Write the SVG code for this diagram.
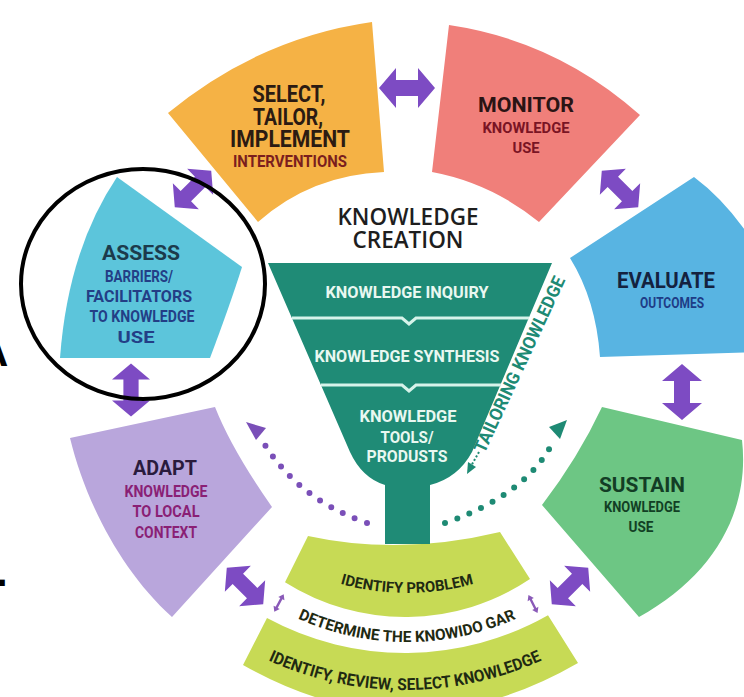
<svg xmlns="http://www.w3.org/2000/svg" width="744" height="697" viewBox="0 0 744 697">
  <defs>
    <style>
      text { font-family: Roboto, "Liberation Sans", "DejaVu Sans", sans-serif; font-weight: 700; text-anchor: middle; }
      .title { font-family: "Open Sans", Roboto, "Liberation Sans", sans-serif; font-weight: 600; font-size: 23px; fill: #1E1E1E; }
      .arrow { fill: #7D4BC3; }
      .ftxt { fill: #E9F8F1; font-size: 17px; }
      .btxt { fill: #1F2A12; }
      .sep { fill: none; stroke: #D6F3EA; stroke-width: 3; }
      .edge { font-family: "Liberation Sans", sans-serif; font-size: 42px; text-anchor: start; fill: #000; }
    </style>
    <!-- reusable double-headed block arrow -->
    <path id="dbl" d="M-28,0 L-11,-20 L-11,-8 L11,-8 L11,-20 L28,0 L11,20 L11,8 L-11,8 L-11,20 Z"/>
    <!-- small thin double arrow -->
    <path id="thin" d="M0,-10 L3.5,-5 L1.2,-5 L1.2,5 L3.5,5 L0,10 L-3.5,5 L-1.2,5 L-1.2,-5 L-3.5,-5 Z"/>
    <!-- baselines for the curved band labels -->
    <path id="arcT1" d="M307,571.7 A246,246 0 0 0 507,571.7"/>
    <path id="arcT2" d="M267,602.2 A266,266 0 0 0 547,602.2"/>
    <path id="arcT3" d="M245,648.6 A330,330 0 0 0 565,648.6"/>
  </defs>

  <rect width="744" height="697" fill="#FFFFFF"/>

  <!-- ring segments -->
  <g id="select">
    <path fill="#F5B245" d="M168,113 Q259,38 372,22 L384,172 Q311,175 258,222 Z"/>
    <text x="289" y="102" font-size="23" fill="#2B1B12" textLength="73" lengthAdjust="spacingAndGlyphs">SELECT,</text>
    <text x="288" y="125" font-size="23" fill="#2B1B12" textLength="70" lengthAdjust="spacingAndGlyphs">TAILOR,</text>
    <text x="290" y="147" font-size="23" fill="#2B1B12" textLength="120" lengthAdjust="spacingAndGlyphs">IMPLEMENT</text>
    <text x="290" y="167" font-size="16" fill="#7B1E1E" textLength="114" lengthAdjust="spacingAndGlyphs">INTERVENTIONS</text>
  </g>

  <g id="monitor">
    <path fill="#F07F7A" d="M449,25 Q557,41 640,115 L539,222 Q491,183 432,172 Z"/>
    <text x="526" y="112" font-size="21" fill="#2A1414" textLength="96" lengthAdjust="spacingAndGlyphs">MONITOR</text>
    <text x="526" y="133" font-size="15" fill="#7A1424" textLength="87" lengthAdjust="spacingAndGlyphs">KNOWLEDGE</text>
    <text x="526" y="153" font-size="15" fill="#7A1424" textLength="27" lengthAdjust="spacingAndGlyphs">USE</text>
  </g>

  <g id="evaluate">
    <path fill="#58B4E2" d="M570,258 L694,177 Q725,200 752,240 L760,260 L760,352 L600,357 Q596,300 570,258 Z"/>
    <text x="666" y="288" font-size="22" fill="#14223F" textLength="98" lengthAdjust="spacingAndGlyphs">EVALUATE</text>
    <text x="672" y="308" font-size="15" fill="#1E3C86" textLength="64" lengthAdjust="spacingAndGlyphs">OUTCOMES</text>
  </g>

  <g id="sustain">
    <path fill="#6DC684" d="M602,407 L742,440 C750,510 715,575 639,617 L542,505 Q578,458 602,407 Z"/>
    <text x="642" y="492" font-size="21" fill="#133D25" textLength="86" lengthAdjust="spacingAndGlyphs">SUSTAIN</text>
    <text x="642" y="512" font-size="15" fill="#123F24" textLength="76" lengthAdjust="spacingAndGlyphs">KNOWLEDGE</text>
    <text x="641" y="532" font-size="15" fill="#123F24" textLength="25" lengthAdjust="spacingAndGlyphs">USE</text>
  </g>

  <g id="adapt">
    <path fill="#B9A6DC" d="M70,438 L215,407 Q232,450 272,507 L172,617 C120,570 85,500 70,438 Z"/>
    <text x="165" y="475" font-size="21" fill="#2A1B3D" textLength="64" lengthAdjust="spacingAndGlyphs">ADAPT</text>
    <text x="166" y="497" font-size="16" fill="#8A1F75" textLength="83" lengthAdjust="spacingAndGlyphs">KNOWLEDGE</text>
    <text x="166" y="517" font-size="16" fill="#8A1F75" textLength="67" lengthAdjust="spacingAndGlyphs">TO LOCAL</text>
    <text x="166" y="538" font-size="16" fill="#8A1F75" textLength="62" lengthAdjust="spacingAndGlyphs">CONTEXT</text>
  </g>

  <g id="assess">
    <path fill="#5CC5DB" d="M117,177 L242,267 Q230,305 210,358 L60,358 Q68,250 117,177 Z"/>
    <text x="141" y="260" font-size="21" fill="#1C3B4C" textLength="78" lengthAdjust="spacingAndGlyphs">ASSESS</text>
    <text x="139" y="282" font-size="16" fill="#233E86" textLength="68" lengthAdjust="spacingAndGlyphs">BARRIERS/</text>
    <text x="139" y="302" font-size="16" fill="#233E86" textLength="106" lengthAdjust="spacingAndGlyphs">FACILITATORS</text>
    <text x="142" y="322" font-size="16" fill="#233E86" textLength="105" lengthAdjust="spacingAndGlyphs">TO KNOWLEDGE</text>
    <text x="136" y="343" font-size="16" fill="#233E86" textLength="37" lengthAdjust="spacingAndGlyphs">USE</text>
  </g>

  <!-- bottom bands -->
  <g id="identify-problem">
    <path fill="#C7DA55" d="M308,536 Q400,556 500,532 L530,579.1 A225,225 0 0 1 285,582.3 Z"/>
    <text class="btxt" font-size="15"><textPath href="#arcT1" startOffset="50%" textLength="135" lengthAdjust="spacingAndGlyphs">IDENTIFY PROBLEM</textPath></text>
  </g>

  <g id="determine-gap">
    <text class="btxt" font-size="15.5"><textPath href="#arcT2" startOffset="50%" textLength="225" lengthAdjust="spacingAndGlyphs">DETERMINE THE KNOWIDO GAR</textPath></text>
  </g>

  <g id="select-knowledge">
    <path fill="#C7DA55" d="M267,618 A290,290 0 0 0 548,615.3 L578,663 Q410,760 243,665 Z"/>
    <text class="btxt" font-size="16.5"><textPath href="#arcT3" startOffset="50%" textLength="282" lengthAdjust="spacingAndGlyphs">IDENTIFY, REVIEW, SELECT KNOWLEDGE</textPath></text>
  </g>

  <!-- knowledge creation funnel -->
  <g id="knowledge-creation">
    <text class="title" x="408" y="225" textLength="141" lengthAdjust="spacingAndGlyphs">KNOWLEDGE</text>
    <text class="title" x="408" y="248" textLength="111" lengthAdjust="spacingAndGlyphs">CREATION</text>
    <path fill="#1F8B76" d="M268,263 L552,263 L472,452 Q458,478 430,485 L430,544 L385,544 L385,485 Q362,478 350,452 Z"/>
    <path class="sep" d="M292,318 L402,318 L409,324 L416,318 L529,318"/>
    <path class="sep" d="M321,385 L402,385 L409,391 L416,385 L501,385"/>
    <text class="ftxt" x="407" y="298" textLength="163" lengthAdjust="spacingAndGlyphs">KNOWLEDGE INQUIRY</text>
    <text class="ftxt" x="407" y="362" textLength="185" lengthAdjust="spacingAndGlyphs">KNOWLEDGE SYNTHESIS</text>
    <text class="ftxt" x="408" y="422" textLength="97" lengthAdjust="spacingAndGlyphs">KNOWLEDGE</text>
    <text class="ftxt" x="407" y="443" textLength="53" lengthAdjust="spacingAndGlyphs">TOOLS/</text>
    <text class="ftxt" x="407" y="462" textLength="81" lengthAdjust="spacingAndGlyphs">PRODUSTS</text>
  </g>

  <g id="tailoring">
    <text transform="translate(525,367) rotate(-65)" font-size="18" fill="#1E8A74" textLength="192" lengthAdjust="spacingAndGlyphs">TAILORING KNOWLEDGE</text>
    <path d="M479,452 L471,466" fill="none" stroke="#1E8A74" stroke-width="2" stroke-dasharray="2 2"/>
    <path d="M467,474 L468,462 L476,467 Z" fill="#1E8A74"/>
  </g>

  <!-- connectors -->
  <g id="connectors">
    <use href="#dbl" class="arrow" transform="translate(407,88)"/>
    <use href="#dbl" class="arrow" transform="translate(193,189) rotate(-45) scale(0.92)"/>
    <use href="#dbl" class="arrow" transform="translate(620,189) rotate(45) scale(0.92)"/>
    <use href="#dbl" class="arrow" transform="translate(682,392) rotate(90)"/>
    <use href="#dbl" class="arrow" transform="translate(570,586) rotate(-45) scale(0.92)"/>
    <use href="#dbl" class="arrow" transform="translate(245,586) rotate(45) scale(0.92)"/>
    <use href="#dbl" class="arrow" transform="translate(131,390) rotate(90) scale(0.95)"/>
    <use href="#thin" fill="#8A5AB8" transform="translate(279,603) rotate(28)"/>
    <use href="#thin" fill="#8A5AB8" transform="translate(533,604) rotate(-27)"/>
    <path d="M367,523 Q300,500 265,445" fill="none" stroke="#7A4FB8" stroke-width="6" stroke-linecap="round" stroke-dasharray="0 13"/>
    <path d="M246,422 L266,428 L256,440 Z" fill="#7A4FB8"/>
    <path d="M445,523 Q525,495 552,444" fill="none" stroke="#1E8A74" stroke-width="6" stroke-linecap="round" stroke-dasharray="0 13"/>
    <path d="M567,420 L549,427 L560,439 Z" fill="#1E8A74"/>
  </g>

  <!-- highlight ring around the assess step -->
  <g id="highlight">
    <ellipse cx="143" cy="284" rx="122" ry="115" fill="none" stroke="#000" stroke-width="4"/>
  </g>

  <!-- cropped characters at the left margin -->
  <g id="margin">
    <text class="edge" x="-22" y="366">A</text>
    <text class="edge" x="-4" y="586">.</text>
  </g>
</svg>
